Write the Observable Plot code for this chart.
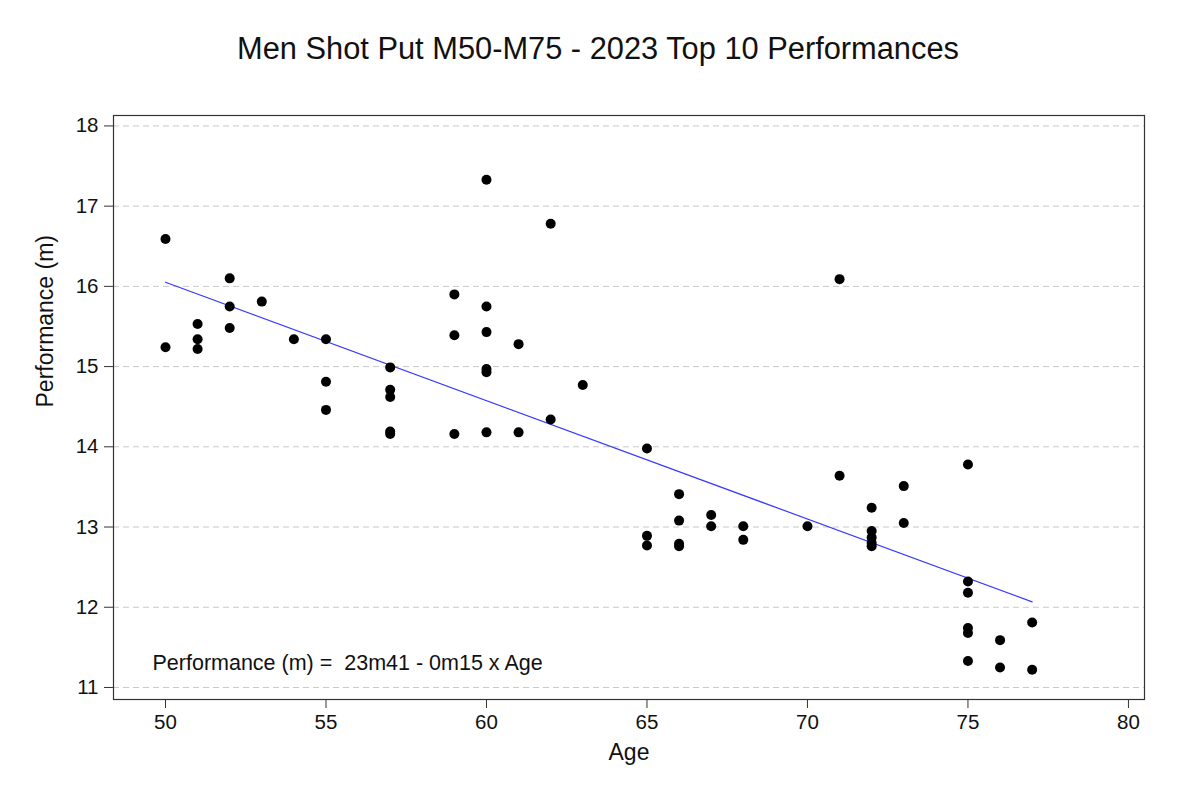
<!DOCTYPE html>
<html>
<head>
<meta charset="utf-8">
<script src="https://cdn.jsdelivr.net/npm/d3@7"></script>
<script src="https://cdn.jsdelivr.net/npm/@observablehq/plot@0.6"></script>
<style>
  html, body { margin: 0; padding: 0; background: #fff; }
  svg { display: block; }
</style>
</head>
<body>
<div id="chart"></div>
<script>
const title = "Men Shot Put M50-M75 - 2023 Top 10 Performances";
const xLabel = "Age";
const yLabel = "Performance (m)";
const equation = "Performance (m) =\u00a0 23m41 - 0m15 x Age";
const xTicks = [50, 55, 60, 65, 70, 75, 80];
const yTicks = [11, 12, 13, 14, 15, 16, 17, 18];

const ages = [50,50,51,51,51,52,52,52,53,54,
  55,55,55,57,57,57,57,57,59,59,59,
  60,60,60,60,60,60,61,61,62,62,63,
  65,65,65,66,66,66,66,67,67,68,68,
  70,71,71,72,72,72,72,72,73,73,
  75,75,75,75,75,75,76,76,77,77];
const performances = [16.59,15.24,15.53,15.34,15.22,16.10,15.75,15.48,15.81,15.34,
  15.34,14.81,14.46,14.99,14.71,14.62,14.19,14.16,15.90,15.39,14.16,
  17.33,15.75,15.43,14.97,14.93,14.18,15.28,14.18,16.78,14.34,14.77,
  13.98,12.89,12.77,13.41,13.08,12.79,12.76,13.15,13.01,13.01,12.84,
  13.01,16.09,13.64,13.24,12.95,12.87,12.80,12.76,13.51,13.05,
  13.78,12.32,12.18,11.74,11.68,11.33,11.59,11.25,11.81,11.22];

const data = ages.map((a, i) => ({age: a, perf: performances[i]}));
const font = "Liberation Sans, Arial, sans-serif";

const chart = Plot.plot({
  width: 1200,
  height: 791,
  marginLeft: 113,
  marginRight: 56,
  marginTop: 115,
  marginBottom: 92,
  style: {fontFamily: font, fontSize: "20px", color: "#111", background: "#fff"},
  x: {domain: [48.38, 80.5], label: null},
  y: {domain: [10.85, 18.13], label: null},
  marks: [
    Plot.gridY(yTicks, {stroke: "#c8c8c8", strokeOpacity: 1, strokeDasharray: "6,4", strokeWidth: 1}),
    Plot.frame({stroke: "#333", strokeWidth: 1.2}),
    Plot.axisX(xTicks, {tickSize: 9, tickPadding: 6, fontSize: 20.5, label: null, stroke: "#333", tickFormat: d3.format("d")}),
    Plot.axisY(yTicks, {tickSize: 9, tickPadding: 6, fontSize: 20.5, label: null, stroke: "#333", tickFormat: d3.format("d")}),
    Plot.linearRegressionY(data, {x: "age", y: "perf", ci: 0, stroke: "#3a3aff", strokeWidth: 1.2}),
    Plot.dot(data, {x: "age", y: "perf", r: 5, fill: "#000", stroke: null}),
    Plot.text([equation], {frameAnchor: "bottom-left", lineAnchor: "middle", dx: 39, dy: -36, textAnchor: "start", fontSize: 21.5, fill: "#111"}),
    Plot.text([title], {frameAnchor: "top", lineAnchor: "middle", dx: -31, dy: -66, fontSize: 30.8, fill: "#111"}),
    Plot.text([xLabel], {frameAnchor: "bottom", lineAnchor: "middle", dy: 53, fontSize: 23, fill: "#111"}),
    Plot.text([yLabel], {frameAnchor: "left", lineAnchor: "middle", dx: -68, rotate: -90, fontSize: 23, fill: "#111"})
  ]
});
document.getElementById("chart").appendChild(chart);
</script>
</body>
</html>
